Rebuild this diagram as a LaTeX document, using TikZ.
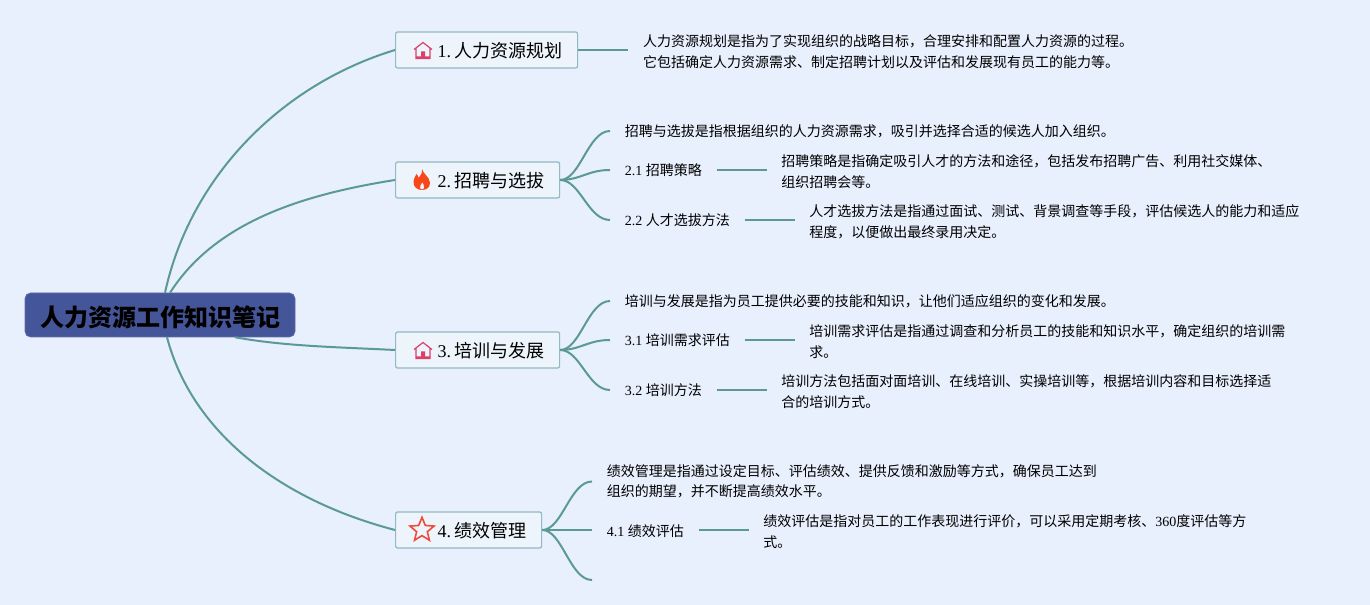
\documentclass[tikz,border=0pt]{standalone}
\usepackage{fontspec}
\setmainfont{Liberation Serif}
\newfontfamily\cjk{Noto Sans CJK SC}
\usetikzlibrary{positioning,calc,shapes.geometric}
\definecolor{mapbg}{HTML}{E8EFFD}
\definecolor{mapline}{HTML}{5B9A94}
\definecolor{maproot}{HTML}{44559A}
\definecolor{mapbox}{HTML}{EDF4FB}
\definecolor{mapedge}{HTML}{93B9C2}
\definecolor{iconred}{HTML}{DB4168}
\definecolor{iconfire}{HTML}{F8481A}
\definecolor{iconstar}{HTML}{EE4B38}
\newcommand{\zh}[1]{{\cjk #1}}
\newcommand{\num}[1]{#1\hspace{2.65pt}}
\tikzset{
    rootbox/.style={rounded corners=4pt,draw=maproot!85!white,fill=maproot,minimum width=202.5pt,minimum height=33pt,inner sep=0pt,text height=18.6pt,text depth=2pt,font=\cjk\bfseries\fontsize{18}{22}\selectfont},
    branch/.style={anchor=west,rounded corners=1.5pt,draw=mapedge,fill=mapbox,line width=0.9pt,minimum height=27pt,inner ysep=0pt,inner xsep=11.25pt,text height=13pt,text depth=2.1pt,font=\fontsize{13.5}{16}\selectfont},
    leaf/.style={anchor=west,inner xsep=10.9pt,inner ysep=2pt,text height=10pt,text depth=1pt,font=\fontsize{10.5}{15}\selectfont},
    desc/.style={anchor=west,inner xsep=10.9pt,inner ysep=2pt,align=left,font=\cjk\fontsize{10.5}{15.3}\selectfont},
    desclow/.style={desc,yshift=-1.3pt},
    link/.style={draw=mapline,line width=1.5pt},
    house/.pic={
        \draw[iconred,line width=0.9pt] (-9,-1) -- (0,-8) -- (9,-1) (-7,-2) -- (-7,8) -- (7,8) -- (7,-2);
        \fill[iconred] (-2,1) rectangle (2,8) (-7,6) rectangle (7,8.5);
    },
    flame/.pic={
        \fill[iconfire] (0,-11) .. controls (1,-6) and (8,-3) .. (8,3) .. controls (8,8) and (4,10) .. (0,10)
            .. controls (-5,10) and (-8.5,7) .. (-8.5,2) .. controls (-8.5,-2) and (-6,-4) .. (-5.5,-6)
            .. controls (-4,-4.5) and (-3.5,-3) .. (-3.5,-2) .. controls (-1.5,-4) and (0.5,-7) .. (0,-11) -- cycle;
        \fill[mapbox] (0,9.5) .. controls (-2,9.5) and (-2.5,7) .. (-1.5,5.5) .. controls (-1,4.5) and (0,3.5) .. (0.3,2.5) .. controls (1,4) and (2.5,5.5) .. (2,7.5) .. controls (1.7,8.8) and (1,9.5) .. (0,9.5) -- cycle;
    },
    staricon/.style={star,star points=5,star point ratio=2.25,draw=iconstar,line width=1.2pt,minimum size=19pt,inner sep=0pt}
}
\begin{document}
\begin{tikzpicture}[x=0.75pt,y=-0.75pt]
\useasboundingbox (0,0) rectangle (1370,605);
\fill[mapbg] (0,0) rectangle (1370,605);
% main branches go first so the curves can use them
\node[rootbox] (root) at (160,315) {人力资源工作知识笔记};
\node[branch] (b1) at (395,50) {\hspace*{20.25pt}\num{1.}\zh{人力资源规划}};
\node[branch] (b2) at (395,180) {\hspace*{20.25pt}\num{2.}\zh{招聘与选拔}};
\node[branch] (b3) at (395,350) {\hspace*{20.25pt}\num{3.}\zh{培训与发展}};
\node[branch] (b4) at (395,530) {\hspace*{20.25pt}\num{4.}\zh{绩效管理}};
\pic at ($(b1.west)+(28,0.5)$) {house};
\pic at ($(b2.west)+(27,0)$) {flame};
\pic at ($(b3.west)+(28,0.5)$) {house};
\node[staricon] (i4) at ($(b4.west)+(27,0)$) {};
% branch 1
\node[desclow,right=37.5pt of b1] (d1) {人力资源规划是指为了实现组织的战略目标，合理安排和配置人力资源的过程。\\它包括确定人力资源需求、制定招聘计划以及评估和发展现有员工的能力等。};
% branch 2
\node[desc] (t2) at (610,131) {招聘与选拔是指根据组织的人力资源需求，吸引并选择合适的候选人加入组织。};
\node[leaf] (s21) at (610,170) {2.1 \zh{招聘策略}};
\node[desclow,right=37.5pt of s21] (d21) {招聘策略是指确定吸引人才的方法和途径，包括发布招聘广告、利用社交媒体、\\组织招聘会等。};
\node[leaf] (s22) at (610,220) {2.2 \zh{人才选拔方法}};
\node[desclow,right=37.5pt of s22] (d22) {人才选拔方法是指通过面试、测试、背景调查等手段，评估候选人的能力和适应\\程度，以便做出最终录用决定。};
% branch 3
\node[desc] (t3) at (610,301) {培训与发展是指为员工提供必要的技能和知识，让他们适应组织的变化和发展。};
\node[leaf] (s31) at (610,340) {3.1 \zh{培训需求评估}};
\node[desclow,right=37.5pt of s31] (d31) {培训需求评估是指通过调查和分析员工的技能和知识水平，确定组织的培训需\\求。};
\node[leaf] (s32) at (610,390) {3.2 \zh{培训方法}};
\node[desclow,right=37.5pt of s32] (d32) {培训方法包括面对面培训、在线培训、实操培训等，根据培训内容和目标选择适\\合的培训方式。};
% branch 4
\node[desc] (t4) at (592,481.5) {绩效管理是指通过设定目标、评估绩效、提供反馈和激励等方式，确保员工达到\\组织的期望，并不断提高绩效水平。};
\node[leaf] (s41) at (592,530) {4.1 \zh{绩效评估}};
\node[desclow,right=37.5pt of s41] (d41) {绩效评估是指对员工的工作表现进行评价，可以采用定期考核、{\rmfamily 360}度评估等方\\式。};
\coordinate (e4) at (592,580);
% connectors
\draw[link] ($(root.north)+(5,0)$) .. controls +(25,-115) and +(-115,35) .. (b1.west);
\draw[link] ($(root.north)+(10,0)$) .. controls +(45,-70) and +(-95,15) .. (b2.west);
\draw[link] ($(root.south)+(75,0)$) .. controls +(50,9) and +(-60,-3) .. (b3.west);
\draw[link] ($(root.south)+(7,0)$) .. controls +(25,95) and +(-115,-30) .. (b4.west);
\draw[link] (b1.east) -- (b1 -| d1.west);
\foreach \from/\to in {b2/t2,b2/s21,b2/s22,b3/t3,b3/s31,b3/s32,b4/t4,b4/s41,b4/e4}{
    \draw[link] (\from.east) .. controls +(20,0) and +(-22,0) .. (\to.west);
}
\foreach \from/\to in {s21/d21,s22/d22,s31/d31,s32/d32,s41/d41}{
    \draw[link] (\from.east) -- (\from -| \to.west);
}
\end{tikzpicture}
\end{document}
